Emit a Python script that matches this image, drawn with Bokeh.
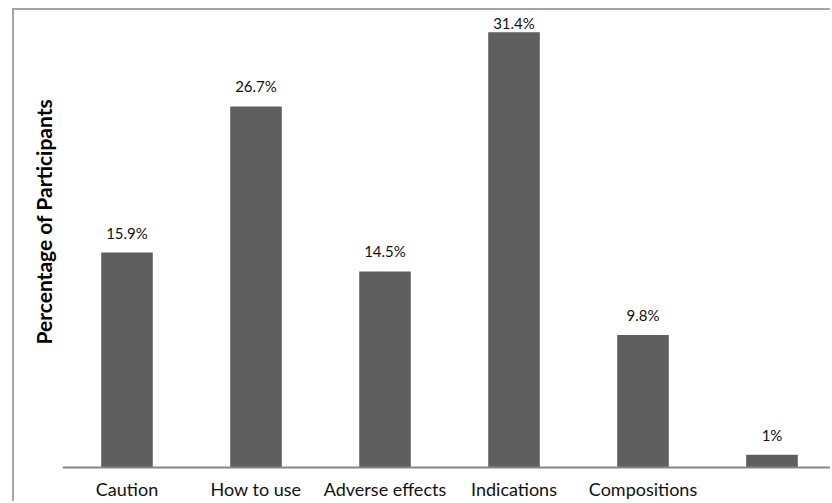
import numpy as np
from bokeh.plotting import figure
from bokeh.models import ColumnDataSource, Range1d, FixedTicker, Title
from bokeh.core.properties import value
from bokeh.embed import file_html
from bokeh.resources import INLINE

# ---- data ----
categories = ["Caution", "How to use", "Adverse effects", "Indications", "Compositions", ""]
percent_values = [15.9, 26.7, 14.5, 32.2, 9.8, 0.95]   # bar heights as drawn
percent_labels = ["15.9%", "26.7%", "14.5%", "31.4%", "9.8%", "1%"]
y_title = "Percentage of Participants"

FONT = "Lato"
W, H = 818, 493
BELOW_AXIS_PX = 36          # room under the category axis line
Y_END = 33.8

px_per_unit = (H - BELOW_AXIS_PX) / Y_END
y_start = -BELOW_AXIS_PX / px_per_unit

p = figure(width=W, height=H, output_backend="svg", toolbar_location=None,
           x_range=Range1d(-0.5, len(categories) - 0.531),
           y_range=Range1d(y_start, Y_END),
           min_border_left=48, min_border_right=0, min_border_top=0,
           min_border_bottom=0)
p.styles = {"margin-left": "12px", "margin-top": "8px",
            "border-left": "2px solid #a5a5a5", "border-top": "2px solid #a5a5a5"}
p.outline_line_color = None
p.xgrid.visible = False
p.ygrid.visible = False
p.background_fill_color = "white"
p.border_fill_color = "white"

x = np.arange(len(categories))
label_y = [min(v + 20 / px_per_unit, Y_END - 12.7 / px_per_unit) for v in percent_values]

src = ColumnDataSource(dict(x=x, top=percent_values, ly=label_y, lab=percent_labels))
p.vbar(x="x", top="top", bottom=0, width=0.4, source=src,
       fill_color="#5f5f5f", line_color=None)
p.text(x="x", y="ly", text="lab", source=src, text_font=value(FONT),
       text_font_size="15px", text_align="center", text_baseline="alphabetic",
       text_color="#111111")

# x axis drawn at y = 0
p.xaxis.fixed_location = 0
p.xaxis.ticker = FixedTicker(ticks=list(x))
p.xaxis.major_label_overrides = {int(i): c for i, c in zip(x, categories)}
p.xaxis.major_tick_out = 0
p.xaxis.major_tick_in = 0
p.xaxis.minor_tick_out = 0
p.xaxis.minor_tick_in = 0
p.xaxis.axis_line_color = "#868686"
p.xaxis.axis_line_width = 2
p.xaxis.major_label_standoff = 10
p.xaxis.major_label_text_font = FONT
p.xaxis.major_label_text_font_size = "18px"
p.xaxis.major_label_text_color = "#111111"

# y axis hidden; its title is a left-side Title placed like the reference
p.yaxis.visible = False
p.add_layout(Title(text=y_title, align="left", offset=159, standoff=12,
                   text_font=FONT, text_font_style="bold", text_font_size="21px",
                   text_color="#000000", vertical_align="middle"), "left")

open("out.html", "w").write(file_html(p, INLINE))
